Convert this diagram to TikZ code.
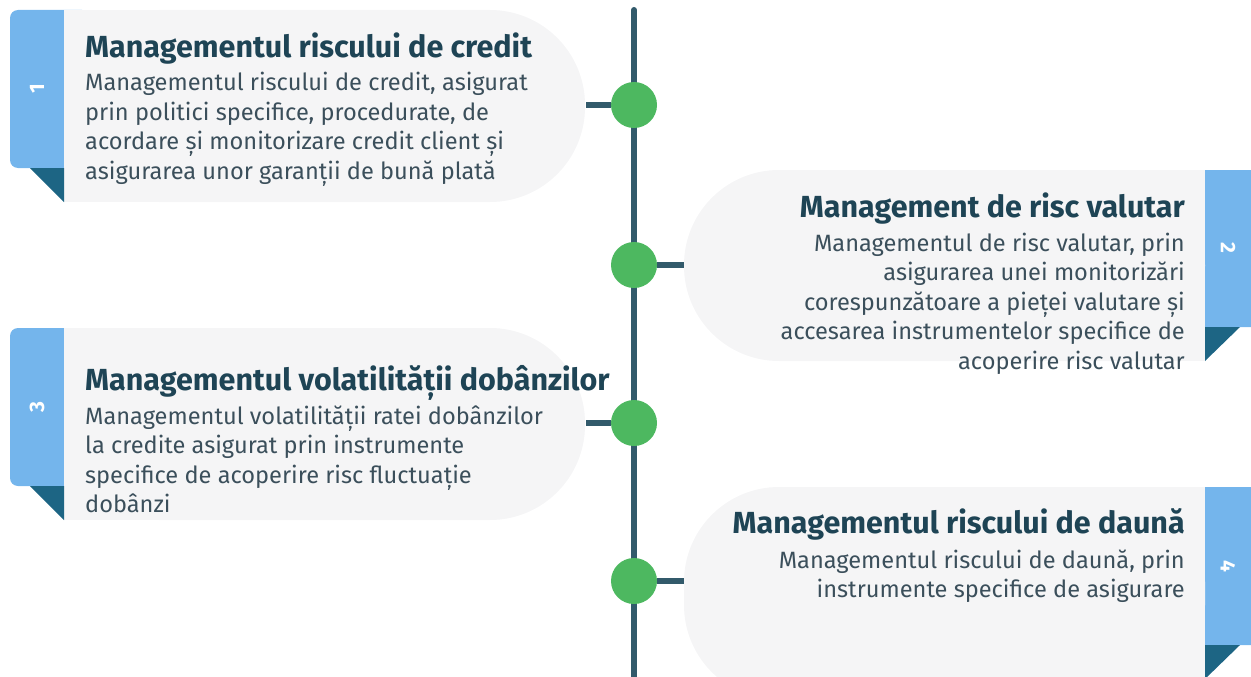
\documentclass[tikz,border=0pt]{standalone}
\usepackage{fontspec}
\setmainfont{Fira Sans}
\usetikzlibrary{positioning}

\definecolor{cardgray}{HTML}{F5F5F6}
\definecolor{tabblue}{HTML}{74B5EC}
\definecolor{folddark}{HTML}{1D6584}
\definecolor{spinecol}{HTML}{325A6B}
\definecolor{dotgreen}{HTML}{4DB860}
\definecolor{headcol}{HTML}{1E4455}
\definecolor{bodycol}{HTML}{3B4F5B}

\begin{document}
\begin{tikzpicture}[x=1pt,y=-1pt,
    card/.style={fill=cardgray,rounded corners=95pt},
    tab/.style={fill=tabblue,rounded corners=8pt},
    fold/.style={fill=folddark},
    spine/.style={draw=spinecol,line width=6pt},
    dot/.style={circle,fill=dotgreen,minimum size=46pt,inner sep=0pt},
    head/.style={font=\bfseries\fontsize{30.5}{34}\selectfont,text=headcol,inner sep=0pt},
    body/.style={font=\fontsize{23.6}{29.5}\selectfont,text=bodycol,inner sep=0pt,text width=540pt},
    num/.style={text=white,font=\bfseries\fontsize{21}{21}\selectfont,inner sep=0pt}]
  \useasboundingbox (0,0) rectangle (1251,677);

  % left cards
  \fill[tab] (10,10) rectangle (90,168);
  \fill[card] (64,10) rectangle (585,202);
  \fill[cardgray] (64,10) rectangle (300,202);
  \fill[fold] (30,168) -- (64,168) -- (64,202) -- cycle;
  \fill[tab] (10,328) rectangle (90,486);
  \fill[card] (64,328) rectangle (585,520);
  \fill[cardgray] (64,328) rectangle (300,520);
  \fill[fold] (30,486) -- (64,486) -- (64,520) -- cycle;

  % right cards
  \fill[tab] (1180,170) rectangle (1260,327);
  \fill[card] (684,170) rectangle (1205,361);
  \fill[cardgray] (1000,170) rectangle (1205,361);
  \fill[fold] (1205,327) -- (1240,327) -- (1205,361) -- cycle;
  \fill[tab] (1180,487) rectangle (1260,645);
  \fill[card] (684,487) rectangle (1205,700);
  \fill[cardgray] (1000,487) rectangle (1205,700);
  \fill[fold] (1205,645) -- (1240,645) -- (1205,679) -- cycle;

  % numbers
  \node[num,rotate=90]  (n1) at (37,89)    {1};
  \node[num,rotate=-90] (n2) at (1228,248) {2};
  \node[num,rotate=90]  (n3) at (37,407)   {3};
  \node[num,rotate=-90] (n4) at (1228,566) {4};

  % timeline
  \coordinate (top) at (634,10);
  \coordinate (bottom) at (634,677);
  \draw[spine,line cap=round] (top) -- (bottom);
  \node[dot] (d1) at (634,105) {};
  \node[dot] (d2) at (634,265) {};
  \node[dot] (d3) at (634,423) {};
  \node[dot] (d4) at (634,581) {};
  \coordinate (s1) at (586,105);
  \coordinate (s2) at (684,265);
  \coordinate (s3) at (586,423);
  \coordinate (s4) at (684,581);
  \draw[spine] (s1) -- (d1.west);
  \draw[spine] (d2.east) -- (s2);
  \draw[spine] (s3) -- (d3.west);
  \draw[spine] (d4.east) -- (s4);

  % texts
  \node[head,anchor=base west] (h1) at (85,58) {Managementul riscului de credit};
  \node[body,anchor=base west,align=flush left] (b1) at (85,91)
    {Managementul riscului de credit, asigurat\\prin politici specifice, procedurate, de\\acordare și monitorizare credit client și\\asigurarea unor garanții de bună plată};
  \node[head,anchor=base east] (h2) at (1185,217) {Management de risc valutar};
  \node[body,anchor=base east,align=flush right] (b2) at (1185,251)
    {Managementul de risc valutar, prin\\asigurarea unei monitorizări\\corespunzătoare a pieței valutare și\\accesarea instrumentelor specifice de\\acoperire risc valutar};
  \node[head,anchor=base west] (h3) at (85,390) {Managementul volatilității dobânzilor};
  \node[body,anchor=base west,align=flush left] (b3) at (85,424)
    {Managementul volatilității ratei dobânzilor\\la credite asigurat prin instrumente\\specifice de acoperire risc fluctuație\\dobânzi};
  \node[head,anchor=base east] (h4) at (1185,533) {Managementul riscului de daună};
  \node[body,anchor=base east,align=flush right] (b4) at (1185,568)
    {Managementul riscului de daună, prin\\instrumente specifice de asigurare};
\end{tikzpicture}
\end{document}
